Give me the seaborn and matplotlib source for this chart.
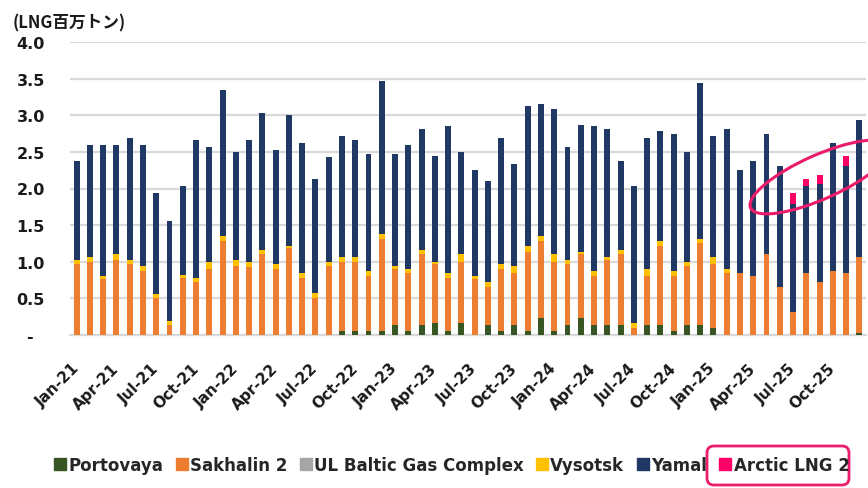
"""
Russian LNG exports by project, monthly stacked bars
"""

import numpy as np
import pandas as pd
import seaborn as sns
import matplotlib.pyplot as plt
from matplotlib.lines import Line2D
from matplotlib.patches import Ellipse, FancyBboxPatch

# Jan-21 .. Dec-25 (60 months), million tonnes LNG
months = list(pd.date_range('2021-01-01', periods=60, freq='MS').strftime('%b-%y'))

portovaya = [0, 0, 0, 0, 0, 0, 0, 0, 0, 0,
             0, 0, 0, 0, 0, 0, 0, 0, 0, 0,
             0.06, 0.06, 0.06, 0.06, 0.13, 0.06, 0.13, 0.16, 0.06, 0.16,
             0, 0.13, 0.06, 0.13, 0.06, 0.23, 0.06, 0.13, 0.23, 0.13,
             0.13, 0.13, 0, 0.13, 0.13, 0.06, 0.13, 0.13, 0.10, 0,
             0, 0, 0, 0, 0, 0, 0, 0, 0, 0.03]
sakhalin = [0.97, 1.00, 0.76, 1.03, 0.97, 0.88, 0.51, 0.14, 0.78, 0.72,
            0.90, 1.29, 0.94, 0.93, 1.10, 0.90, 1.19, 0.78, 0.50, 0.94,
            0.94, 0.94, 0.75, 1.25, 0.77, 0.79, 0.97, 0.81, 0.72, 0.84,
            0.76, 0.53, 0.84, 0.72, 1.07, 1.06, 0.94, 0.84, 0.87, 0.68,
            0.90, 0.97, 0.10, 0.68, 1.09, 0.75, 0.81, 1.12, 0.87, 0.85,
            0.85, 0.81, 1.10, 0.66, 0.32, 0.85, 0.72, 0.88, 0.85, 1.04]
ul_baltic = [0] * 60
vysotsk = [0.06, 0.06, 0.05, 0.07, 0.06, 0.06, 0.05, 0.05, 0.04, 0.06,
           0.10, 0.06, 0.09, 0.07, 0.06, 0.07, 0.03, 0.07, 0.07, 0.06,
           0.06, 0.06, 0.07, 0.07, 0.04, 0.05, 0.06, 0.03, 0.07, 0.10,
           0.05, 0.06, 0.07, 0.09, 0.09, 0.06, 0.10, 0.06, 0.03, 0.07,
           0.03, 0.06, 0.06, 0.09, 0.07, 0.07, 0.06, 0.06, 0.09, 0.05,
           0, 0, 0, 0, 0, 0, 0, 0, 0, 0]
yamal = [1.35, 1.53, 1.78, 1.49, 1.66, 1.65, 1.38, 1.37, 1.22, 1.88,
         1.56, 2.00, 1.47, 1.66, 1.87, 1.56, 1.78, 1.77, 1.56, 1.43,
         1.66, 1.60, 1.59, 2.09, 1.53, 1.69, 1.65, 1.44, 2.00, 1.40,
         1.44, 1.38, 1.72, 1.40, 1.90, 1.81, 1.99, 1.53, 1.74, 1.97,
         1.75, 1.22, 1.88, 1.79, 1.49, 1.87, 1.50, 2.13, 1.66, 1.91,
         1.40, 1.57, 1.65, 1.65, 1.47, 1.19, 1.34, 1.74, 1.46, 1.87]
arctic = [0] * 54 + [0.15, 0.09, 0.13, 0, 0.13, 0]

series = ['Portovaya', 'Sakhalin 2', 'UL Baltic Gas Complex', 'Vysotsk', 'Yamal', 'Arctic LNG 2']
values = [portovaya, sakhalin, ul_baltic, vysotsk, yamal, arctic]
colors = ['#375623', '#ed7d31', '#a5a5a5', '#ffc000', '#203864', '#ff0066']

yticks = [0, 0.5, 1.0, 1.5, 2.0, 2.5, 3.0, 3.5, 4.0]
ytick_labels = ['-  ', '0.5', '1.0', '1.5', '2.0', '2.5', '3.0', '3.5', '4.0']

sns.set_style('white')
plt.rcParams['font.family'] = ['DejaVu Sans']

fig = plt.figure(figsize=(8.68, 4.89), dpi=100)
ax = fig.add_axes([70 / 868, 1 - 336 / 489, 796 / 868, 293 / 489])

# stacked bars: draw cumulative totals from the top series down
cum = np.cumsum(np.array(values, dtype=float), axis=0)
for i in range(len(series) - 1, -1, -1):
    sns.barplot(x=months, y=cum[i], color=colors[i], saturation=1,
                width=0.45, ax=ax, linewidth=0, zorder=3)

ax.set_xlim(-0.5, 59.5)
ax.set_ylim(0, 4.0)
ax.set_yticks(yticks)
ax.set_yticklabels(ytick_labels, fontsize=11.5, fontweight='bold', color='#1a1a1a')
ax.tick_params(axis='y', length=0, pad=18)
ax.yaxis.grid(True, color='#d9d9d9', linewidth=1.6, zorder=0)
ax.set_axisbelow(True)

ax.set_xticks(range(0, 60, 3))
ax.set_xticklabels(months[::3], fontsize=11, fontweight='bold', color='#1a1a1a')
ax.set_xticks(np.arange(-0.5, 60, 3), minor=True)
ax.tick_params(axis='x', which='major', length=0, pad=22)
ax.tick_params(axis='x', which='minor', length=8, width=1.2, color='#d9d9d9')
for lab in ax.get_xticklabels():
    lab.set_rotation(45)
    lab.set_ha('right')
    lab.set_va('center')
    lab.set_rotation_mode('anchor')
ax.set_xlabel('')
ax.set_ylabel('')

for side in ['top', 'right', 'left']:
    ax.spines[side].set_visible(False)
ax.spines['bottom'].set_color('#d9d9d9')
ax.spines['bottom'].set_linewidth(1.6)

fig.text(13 / 868, 1 - 23 / 489, '(LNG百万トン)', fontsize=12, fontweight='bold',
         family=['Noto Sans CJK JP', 'DejaVu Sans'], va='center', ha='left', color='#1a1a1a')

handles = [Line2D([0], [0], marker='s', linestyle='none', markersize=8,
                  markerfacecolor=c, markeredgecolor=c) for c in colors]
fig.legend(handles, series, loc='center', bbox_to_anchor=(0.52, 1 - 466 / 489),
           ncol=6, frameon=False, prop={'size': 12, 'weight': 'bold'},
           handletextpad=0.1, columnspacing=0.7, handlelength=0.8)

# pink highlights
fig.patches.append(Ellipse((8.20, (489 - 178) / 100), 1.52, 0.44, angle=24,
                           transform=fig.dpi_scale_trans, fill=False,
                           edgecolor='#ec1c6b', linewidth=2.2))
fig.patches.append(FancyBboxPatch((7.07, 0.03), 1.42, 0.39,
                                  boxstyle='round,pad=0,rounding_size=0.07',
                                  transform=fig.dpi_scale_trans, fill=False,
                                  edgecolor='#ec1c6b', linewidth=2))

plt.savefig('out.png', dpi=100)
